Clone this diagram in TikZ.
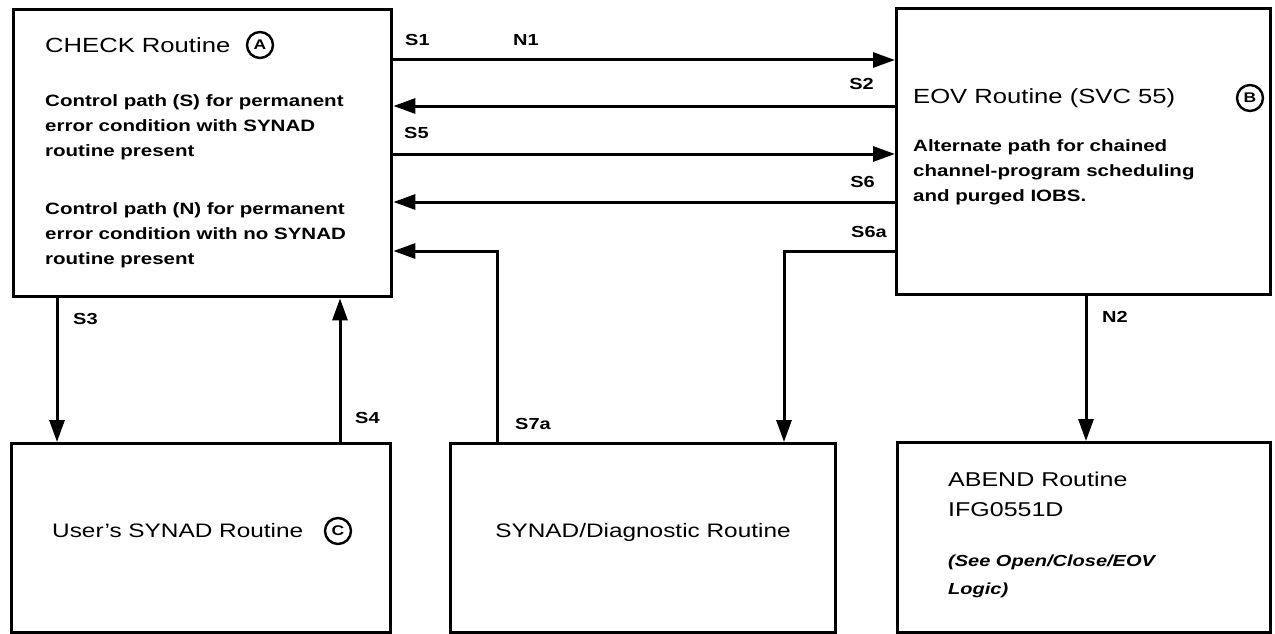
\documentclass[tikz,border=0pt]{standalone}
\usepackage{fontspec}
\setmainfont{Liberation Sans}[FakeStretch=1.25]
\usetikzlibrary{arrows.meta}
\begin{document}
\begin{tikzpicture}[x=1pt,y=-1pt,
  box/.style={draw,line width=3.4pt,rectangle,anchor=north west,inner sep=0pt},
  conn/.style={line width=3pt},
  arr/.style={conn,-{Triangle[length=22pt,width=15pt]}},
  ttl/.style={font=\fontsize{20.5}{25}\selectfont,anchor=west,inner sep=0pt},
  btl/.style={font=\fontsize{19.5}{24}\selectfont,anchor=west,inner sep=0pt},
  body/.style={font=\bfseries\fontsize{16.4}{25}\selectfont,anchor=west,align=left,inner sep=0pt},
  lbl/.style={font=\bfseries\fontsize{16}{18}\selectfont,inner sep=0pt},
  circ/.style={circle,draw,line width=2.4pt,inner sep=0pt,minimum size=26pt,font=\bfseries\fontsize{14}{14}\selectfont}
]
\useasboundingbox (0,0) rectangle (1275,634);
% boxes
\node[box,minimum width=378pt,minimum height=287pt] (check) at (12,8) {};
\node[box,minimum width=374pt,minimum height=286pt] (eov) at (895,7) {};
\node[box,minimum width=379pt,minimum height=189pt] (user) at (10,442) {};
\node[box,minimum width=385pt,minimum height=189pt] (diag) at (449,442) {};
\node[box,minimum width=373pt,minimum height=190pt] (abend) at (896,441) {};
% CHECK text
\node[ttl] (checkt) at (45,45) {CHECK Routine};
\node[circ] (ca) at (260,45) {A};
\node[body] (checkb1) at (45,127) {Control path (S) for permanent\\error condition with SYNAD\\routine present};
\node[body] (checkb2) at (45,235) {Control path (N) for permanent\\error condition with no SYNAD\\routine present};
% EOV text
\node[ttl] (eovt) at (913,98) {EOV Routine (SVC 55)};
\node[circ] (cb) at (1250,98) {B};
\node[body] (eovb) at (913,172) {Alternate path for chained\\channel-program scheduling\\and purged IOBS.};
% bottom texts
\node[btl] (usert) at (52,531) {User's SYNAD Routine};
\node[circ] (cc) at (338,531) {C};
\node[btl,anchor=center] (diagt) at (643,532) {SYNAD/Diagnostic Routine};
\node[btl,anchor=north west,align=left,font=\fontsize{20}{30}\selectfont] (abendt) at (948,472) {ABEND Routine\\IFG0551D};
\node[body,anchor=north west,font=\bfseries\itshape\fontsize{16}{28}\selectfont] (abendn) at (948,555) {(See Open/Close/EOV\\Logic)};
% connectors
\draw[arr] (check.east |- 0,60) -- (eov.west |- 0,60);
\draw[arr] (eov.west |- 0,106) -- (check.east |- 0,106);
\draw[arr] (check.east |- 0,154) -- (eov.west |- 0,154);
\draw[arr] (eov.west |- 0,202) -- (check.east |- 0,202);
\draw[arr] (diag.north -| 497,0) |- (check.east |- 0,251);
\draw[arr] (eov.west |- 0,251) -| (diag.north -| 784,0);
\draw[arr] (check.south -| 57,0) -- (user.north -| 57,0);
\draw[arr] (user.north -| 340,0) -- (check.south -| 340,0);
\draw[arr] (eov.south -| 1086,0) -- (abend.north -| 1086,0);
% labels
\node[lbl,anchor=west] (ls1) at (405,40) {S1};
\node[lbl,anchor=west] (ln1) at (513,40) {N1};
\node[lbl,anchor=east] (ls2) at (874,84) {S2};
\node[lbl,anchor=west] (ls5) at (404,133) {S5};
\node[lbl,anchor=east] (ls6) at (875,182) {S6};
\node[lbl,anchor=east] (ls6a) at (887,232) {S6a};
\node[lbl,anchor=west] (ls3) at (73,319) {S3};
\node[lbl,anchor=west] (ls4) at (355,418) {S4};
\node[lbl,anchor=west] (ls7a) at (515,424) {S7a};
\node[lbl,anchor=west] (ln2) at (1102,317) {N2};
\end{tikzpicture}
\end{document}
